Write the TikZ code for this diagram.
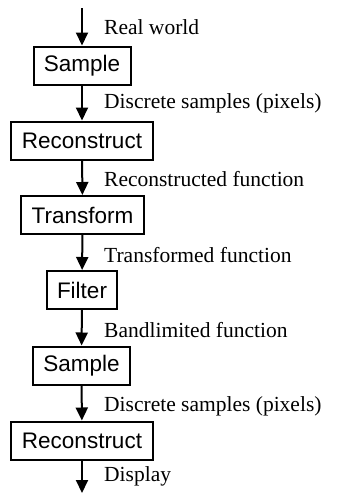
\documentclass[tikz,border=0pt]{standalone}
\usepackage{fontspec}
\setmainfont{Liberation Serif}
\newfontfamily\boxfont{Liberation Sans}
\usetikzlibrary{arrows.meta}
\begin{document}
\begin{tikzpicture}[x=1pt,y=-1pt,
  stage/.style={draw=black, line width=2pt, rectangle, inner sep=0pt, minimum height=38pt,
    font=\boxfont\fontsize{22.5}{26}\selectfont},
  lbl/.style={anchor=base west, inner sep=0pt, font=\fontsize{21.5}{24}\selectfont},
  arr/.style={line width=2pt, -{Triangle[length=13pt,width=12pt]}}]
\useasboundingbox (0,0) rectangle (337,493);
\coordinate (top) at (82,8);
\node[stage, minimum width=97pt] (s1) at (82,65.5) {Sample};
\node[stage, minimum width=142pt] (r1) at (82,140.5) {Reconstruct};
\node[stage, minimum width=123pt] (t) at (82.5,215) {Transform};
\node[stage, minimum width=70pt] (f) at (82,290) {Filter};
\node[stage, minimum width=97pt] (s2) at (81.5,365.5) {Sample};
\node[stage, minimum width=142pt] (r2) at (82,440.5) {Reconstruct};
\coordinate (bot) at (82,493);
\draw[arr] (top) -- (s1);
\draw[arr] (s1) -- (r1);
\draw[arr] (r1) -- (t);
\draw[arr] (t) -- (f);
\draw[arr] (f) -- (s2);
\draw[arr] (s2) -- (r2);
\draw[arr] (r2) -- (bot);
\node[lbl] (l1) at (104,34) {Real world};
\node[lbl] (l2) at (104,108) {Discrete samples (pixels)};
\node[lbl] (l3) at (104,186) {Reconstructed function};
\node[lbl] (l4) at (104,262) {Transformed function};
\node[lbl] (l5) at (104,337) {Bandlimited function};
\node[lbl] (l6) at (104,411) {Discrete samples (pixels)};
\node[lbl] (l7) at (104,481) {Display};
\end{tikzpicture}
\end{document}
